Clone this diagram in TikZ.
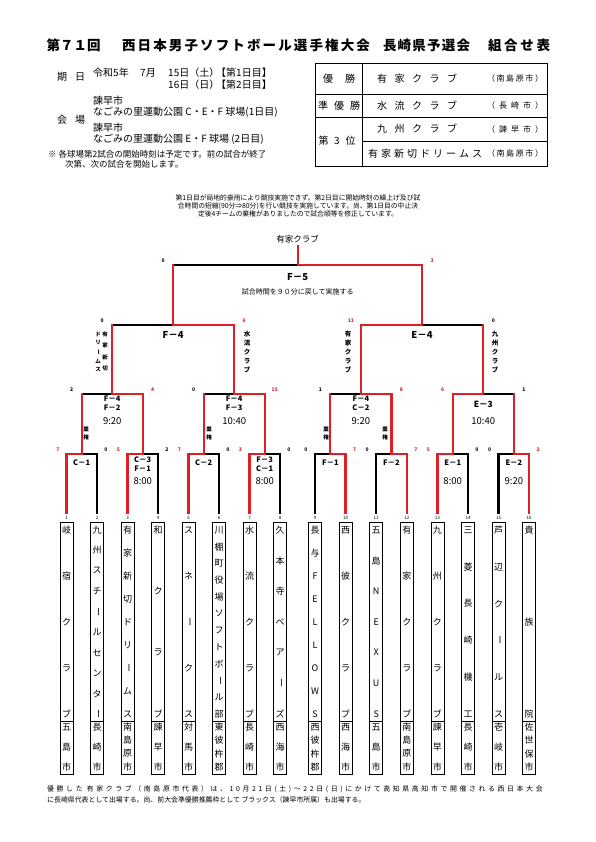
\documentclass[tikz,border=0pt]{standalone}
\usepackage{fontspec}
\usepackage{graphicx}
\setmainfont{Noto Sans CJK JP}
\usetikzlibrary{calc}
\definecolor{bred}{RGB}{222,32,38}
\def\sprA#1{#1\futurelet\sprnext\sprB}
\def\sprB{\ifx\sprnext\relax\expandafter\sprEnd\else\hfill\expandafter\sprA\fi}
\def\sprEnd\relax{}
\newcommand\spr[2]{\makebox[#1]{\sprA#2\relax}}
\newcommand\vb{\rotatebox[origin=c]{-90}{ー}}
\newcommand\fs[1]{\fontsize{#1}{#1}\selectfont}
\begin{document}
\begin{tikzpicture}[x=1pt,y=-1pt,
  wl/.style={line width=2.3pt,draw=black,line cap=rect,line join=miter},
  rl/.style={wl,draw=bred},
  tbox/.style={draw,line width=0.7pt,minimum width=13pt,minimum height=252pt,inner sep=0pt},
  tc/.style={font=\fs{9},inner sep=0pt},
  tn/.style={font=\fs{4.5},inner sep=0pt},
  sk/.style={font=\fs{5}\bfseries,inner sep=0pt},
  skr/.style={sk,text=bred},
  mlab/.style={font=\fs{7.5}\bfseries,inner sep=0pt},
  mbig/.style={font=\fs{9.5}\bfseries,inner sep=0pt},
  mtime/.style={font=\fs{9.5},inner sep=0pt},
  vlab/.style={font=\fs{6.5}\bfseries,inner sep=0pt},
  vsm/.style={font=\fs{5.5}\bfseries,inner sep=0pt},
  hd/.style={font=\fs{10},inner sep=0pt,anchor=west},
  tb/.style={font=\fs{10},inner sep=0pt},
  tbs/.style={font=\fs{8},inner sep=0pt},
  ttl/.style={font=\fs{13.5}\bfseries,inner sep=0pt},
  note/.style={font=\fs{6.8},inner sep=0pt},
  btm/.style={font=\fs{6.9},inner sep=0pt,anchor=west}
]
\useasboundingbox[fill=white] (0,0) rectangle (595,842);

% ---------- title ----------
\node[ttl] (ti1) at (73.5,45) {\spr{53pt}{第７１回}};
\node[ttl] (ti2) at (246,45) {\spr{248pt}{西日本男子ソフトボール選手権大会}};
\node[ttl] (ti3) at (426.5,45) {\spr{87pt}{長崎県予選会}};
\node[ttl] (ti4) at (519,45) {\spr{62pt}{組合せ表}};

% ---------- header left ----------
\node[hd] (kd) at (57,77) {\spr{28pt}{期日}};
\node[hd] (h1) at (93,73) {令和5年};
\node[hd] (h2) at (140,73) {7月};
\node[hd] (h3) at (168,73) {15日（土）};
\node[hd] (h4) at (216,73) {【第1日目】};
\node[hd] (h5) at (168,84.5) {16日（日）};
\node[hd] (h6) at (216,84.5) {【第2日目】};
\node[hd] (h7) at (93,101) {諫早市};
\node[hd] (h8) at (93,112) {なごみの里運動公園 C・E・F 球場(1日目)};
\node[hd] (kj) at (57,120) {\spr{28pt}{会場}};
\node[hd] (h9) at (93,128) {諫早市};
\node[hd] (h10) at (93,139) {なごみの里運動公園 E・F 球場 (2日目)};
\node[hd,font=\fs{8.5}] (h11) at (48,154) {※ 各球場第2試合の開始時刻は予定です。前の試合が終了};
\node[hd,font=\fs{8.5}] (h12) at (65,164.5) {次第、次の試合を開始します。};

% ---------- header table ----------
\draw[line width=0.9pt] (315,63) rectangle (547,166);
\draw[line width=0.9pt] (315,94) -- (547,94);
\draw[line width=0.9pt] (315,117) -- (547,117);
\draw[line width=0.6pt] (362,141) -- (547,141);
\draw[line width=0.9pt] (362,63) -- (362,166);
\node[tb] (r1a) at (339,78.5) {\spr{32pt}{優勝}};
\node[tb] (r1b) at (417,78.5) {\spr{80pt}{有家クラブ}};
\node[tbs] (r1c) at (515,78.5) {\spr{56pt}{（南島原市）}};
\node[tb] (r2a) at (339,105.5) {\spr{42pt}{準優勝}};
\node[tb] (r2b) at (417,105.5) {\spr{80pt}{水流クラブ}};
\node[tbs] (r2c) at (515,105.5) {\spr{56pt}{（長崎市）}};
\node[tb] (r3a) at (337,141) {\spr{37pt}{第3位}};
\node[tb] (r3b) at (417,129) {\spr{80pt}{九州クラブ}};
\node[tbs] (r3c) at (515,129) {\spr{56pt}{（諫早市）}};
\node[tb] (r4b) at (425,153.5) {\spr{114pt}{有家新切ドリームス}};
\node[tbs] (r4c) at (515,153.5) {\spr{56pt}{（南島原市）}};

% ---------- note ----------
\node[note] (n1) at (298,198) {第1日目が局地的豪雨により競技実施できず。第2日目に開始時刻の繰上げ及び試};
\node[note] (n2) at (298,206) {合時間の短縮(90分⇒80分)を行い競技を実施しています。尚、第1日目の中止決};
\node[note] (n3) at (298,213.5) {定後4チームの棄権がありましたので試合順等を修正しています。};

% ---------- team boxes ----------
\foreach \i/\xx/\nm/\nn/\ct/\mm in {
 1/66.5/{岐,宿,ク,ラ,ブ}/5/{五,島,市}/3,
 2/97/{九,州,ス,チ,\vb,ル,セ,ン,タ,\vb}/10/{長,崎,市}/3,
 3/127.5/{有,家,新,切,ド,リ,\vb,ム,ス}/9/{南,島,原,市}/4,
 4/158/{和,ク,ラ,ブ}/4/{諫,早,市}/3,
 5/188.5/{ス,ネ,\vb,ク,ス}/5/{対,馬,市}/3,
 6/219/{川,棚,町,役,場,ソ,フ,ト,ボ,\vb,ル,部}/12/{東,彼,杵,郡}/4,
 7/249.5/{水,流,ク,ラ,ブ}/5/{長,崎,市}/3,
 8/280/{久,本,寺,ベ,ア,\vb,ズ}/7/{西,海,市}/3,
 9/315/{長,与,F,E,L,L,O,W,S}/9/{西,彼,杵,郡}/4,
 10/345.6/{西,彼,ク,ラ,ブ}/5/{西,海,市}/3,
 11/376.2/{五,島,N,E,X,U,S}/7/{五,島,市}/3,
 12/406.8/{有,家,ク,ラ,ブ}/5/{南,島,原,市}/4,
 13/437.4/{九,州,ク,ラ,ブ}/5/{諫,早,市}/3,
 14/468/{三,菱,長,崎,機,工}/6/{長,崎,市}/3,
 15/498.6/{芦,辺,ク,\vb,ル,ス}/6/{壱,岐,市}/3,
 16/529.2/{貴,族,院}/3/{佐,世,保,市}/4}{
  \node[tbox] (t\i) at (\xx,648) {};
  \draw[line width=0.7pt] (t\i.west |- 0,721) -- (t\i.east |- 0,721);
  \node[tn] (n\i) at (\xx,517.5) {\i};
  \coordinate (l\i) at (\xx,513);
  \foreach \c [count=\k] in \nm {
    \pgfmathsetmacro\yy{530+(\k-1)*184/(\nn-1)}
    \node[tc] (t\i c\k) at (\xx,\yy) {\c};
  }
  \foreach \c [count=\k] in \ct {
    \pgfmathsetmacro\yy{727+(\k-1)*40/(\mm-1)}
    \node[tc] (t\i d\k) at (\xx,\yy) {\c};
  }
}

% ---------- match coordinates ----------
\coordinate (a1) at (81.75,454);
\coordinate (a2) at (142.75,454);
\coordinate (a3) at (203.75,454);
\coordinate (a4) at (264.75,454);
\coordinate (a5) at (330.3,454);
\coordinate (a6) at (391.5,454);
\coordinate (a7) at (452.7,454);
\coordinate (a8) at (513.9,454);
\coordinate (b1) at (112.25,394);
\coordinate (b2) at (234.25,394);
\coordinate (b3) at (360.9,394);
\coordinate (b4) at (483.3,394);
\coordinate (c1) at (173.25,325);
\coordinate (c2) at (422.1,325);
\coordinate (d) at (297.675,265);

% ---------- black (lost) lines ----------
\draw[wl] (l2) -- (l2 |- a1) -- (a1);
\draw[wl] (l4) -- (l4 |- a2) -- (a2);
\draw[wl] (l6) -- (l6 |- a3) -- (a3);
\draw[wl] (l8) -- (l8 |- a4) -- (a4);
\draw[wl] (l9) -- (l9 |- a5) -- (a5);
\draw[wl] (l11) -- (l11 |- a6) -- (a6);
\draw[wl] (l14) -- (l14 |- a7) -- (a7);
\draw[wl] (l15) -- (l15 |- a8) -- (a8);
\draw[wl] (a1 |- b1) -- (b1);
\draw[wl] (a3 |- b2) -- (b2);
\draw[wl] (a5 |- b3) -- (b3);
\draw[wl] (a8 |- b4) -- (b4);
\draw[wl] (b1 |- c1) -- (c1);
\draw[wl] (b4 |- c2) -- (c2);
\draw[wl] (c1 |- d) -- (d);

% ---------- red (won) lines ----------
\draw[rl] (l1) -- (l1 |- a1) -- (a1);
\draw[rl] (l3) -- (l3 |- a2) -- (a2);
\draw[rl] (l5) -- (l5 |- a3) -- (a3);
\draw[rl] (l7) -- (l7 |- a4) -- (a4);
\draw[rl] (l10) -- (l10 |- a5) -- (a5);
\draw[rl] (l12) -- (l12 |- a6) -- (a6);
\draw[rl] (l13) -- (l13 |- a7) -- (a7);
\draw[rl] (l16) -- (l16 |- a8) -- (a8);
\draw[rl] (a1) -- (a1 |- b1);
\draw[rl] (a2) -- (a2 |- b1) -- (b1);
\draw[rl] (a3) -- (a3 |- b2);
\draw[rl] (a4) -- (a4 |- b2) -- (b2);
\draw[rl] (a5) -- (a5 |- b3);
\draw[rl] (a6) -- (a6 |- b3) -- (b3);
\draw[rl] (a7) -- (a7 |- b4) -- (b4);
\draw[rl] (a8) -- (a8 |- b4);
\draw[rl] (b1) -- (b1 |- c1);
\draw[rl] (b2) -- (b2 |- c1) -- (c1);
\draw[rl] (b3) -- (b3 |- c2) -- (c2);
\draw[rl] (b4) -- (b4 |- c2);
\draw[rl] (c1) -- (c1 |- d);
\draw[rl] (c2) -- (c2 |- d) -- (d);
\node[font=\fs{8.5},inner sep=0pt] (champ) at (297.675,239) {有家クラブ};
\draw[rl] (d) -- ([yshift=-2.5pt]champ.south);

% ---------- scores ----------
\node[skr] (sa1l) at (58,450) {7};   \node[sk] (sa1r) at (106,450) {0};
\node[skr] (sa2l) at (118.5,450) {5}; \node[sk] (sa2r) at (167,450) {2};
\node[skr] (sa3l) at (179.5,450) {7}; \node[sk] (sa3r) at (228,450) {0};
\node[skr] (sa4l) at (240.5,450) {3}; \node[sk] (sa4r) at (289,450) {0};
\node[sk] (sa5l) at (306,450) {0};    \node[skr] (sa5r) at (354.6,450) {7};
\node[sk] (sa6l) at (367.2,450) {0};  \node[skr] (sa6r) at (415.8,450) {7};
\node[skr] (sa7l) at (428.4,450) {5}; \node[sk] (sa7r) at (477,450) {0};
\node[sk] (sa8l) at (489.6,450) {0};  \node[skr] (sa8r) at (538.2,450) {2};
\node[sk] (sb1l) at (71.75,390) {2};  \node[skr] (sb1r) at (152.75,390) {4};
\node[sk] (sb2l) at (193.75,390) {0}; \node[skr] (sb2r) at (274.75,390) {15};
\node[sk] (sb3l) at (320.3,390) {1};  \node[skr] (sb3r) at (401.5,390) {8};
\node[skr] (sb4l) at (442.7,390) {6}; \node[sk] (sb4r) at (523.9,390) {1};
\node[sk] (sc1l) at (102.25,321) {0}; \node[skr] (sc1r) at (244.25,321) {6};
\node[skr] (sc2l) at (350.9,321) {11}; \node[sk] (sc2r) at (493.3,321) {0};
\node[sk] (sdl) at (163.25,261) {0};  \node[skr] (sdr) at (432.1,261) {3};

% ---------- match labels ----------
\node[mbig] (ld1) at ([yshift=-12pt]d) {F－5};
\node[font=\fs{7},inner sep=0pt] (ld2) at ([yshift=-27pt]d) {試合時間を９０分に戻して実施する};
\node[mbig] (lc1) at ([yshift=-10pt]c1) {F－4};
\node[mbig] (lc2) at ([yshift=-10pt]c2) {E－4};
\node[mlab] (lb1a) at ([yshift=-4.5pt]b1) {F－4};
\node[mlab] (lb1b) at ([yshift=-14pt]b1) {F－2};
\node[mtime] (lb1c) at ([yshift=-27pt]b1) {9:20};
\node[mlab] (lb2a) at ([yshift=-4.5pt]b2) {F－4};
\node[mlab] (lb2b) at ([yshift=-14pt]b2) {F－3};
\node[mtime] (lb2c) at ([yshift=-27pt]b2) {10:40};
\node[mlab] (lb3a) at ([yshift=-4.5pt]b3) {F－4};
\node[mlab] (lb3b) at ([yshift=-14pt]b3) {C－2};
\node[mtime] (lb3c) at ([yshift=-27pt]b3) {9:20};
\node[font=\fs{8.5}\bfseries,inner sep=0pt] (lb4a) at ([yshift=-10pt]b4) {E－3};
\node[mtime] (lb4c) at ([yshift=-27pt]b4) {10:40};
\node[mlab] (la1) at ([yshift=-9pt]a1) {C－1};
\node[mlab] (la2a) at ([yshift=-5.5pt]a2) {C－3};
\node[mlab] (la2b) at ([yshift=-15pt]a2) {F－1};
\node[mtime] (la2c) at ([yshift=-27pt]a2) {8:00};
\node[mlab] (la3) at ([yshift=-9pt]a3) {C－2};
\node[mlab] (la4a) at ([yshift=-5.5pt]a4) {F－3};
\node[mlab] (la4b) at ([yshift=-15pt]a4) {C－1};
\node[mtime] (la4c) at ([yshift=-27pt]a4) {8:00};
\node[mlab] (la5) at ([yshift=-9pt]a5) {F－1};
\node[mlab] (la6) at ([yshift=-9pt]a6) {F－2};
\node[mlab] (la7a) at ([yshift=-9pt]a7) {E－1};
\node[mtime] (la7c) at ([yshift=-27pt]a7) {8:00};
\node[mlab] (la8a) at ([yshift=-9pt]a8) {E－2};
\node[mtime] (la8c) at ([yshift=-27pt]a8) {9:20};

% ---------- vertical team labels ----------
\foreach \c [count=\k] in {水,流,ク,ラ,ブ} {
  \pgfmathsetmacro\yy{334+(\k-1)*9}
  \node[vlab] (vw\k) at (247,\yy) {\c};
}
\foreach \c [count=\k] in {有,家,ク,ラ,ブ} {
  \pgfmathsetmacro\yy{334+(\k-1)*9}
  \node[vlab] (vu\k) at (348,\yy) {\c};
}
\foreach \c [count=\k] in {九,州,ク,ラ,ブ} {
  \pgfmathsetmacro\yy{334+(\k-1)*9}
  \node[vlab] (vk\k) at (495,\yy) {\c};
}
\foreach \c [count=\k] in {有,家,新,切} {
  \pgfmathsetmacro\yy{334+(\k-1)*11.5}
  \node[vsm] (vs\k) at (105,\yy) {\c};
}
\foreach \c [count=\k] in {ド,リ,\vb,ム,ス} {
  \pgfmathsetmacro\yy{334+(\k-1)*9}
  \node[vsm] (vd\k) at (98,\yy) {\c};
}
\foreach \xx/\q in {86/1,209/2,326/3,385/4} {
  \node[vsm] (kk\q a) at (\xx,429) {棄};
  \node[vsm] (kk\q b) at (\xx,437) {権};
}

% ---------- bottom text ----------
\node[btm] (bt1) at (47,789) {\addfontfeature{LetterSpace=38}優勝した 有家クラブ（南島原市代表）は、10月21日(土)～22日(日)にかけて高知県高知市で開催される西日本大会};
\node[btm] (bt2) at (47,800) {に長崎県代表として出場する。尚、前大会準優勝推薦枠として ブラックス（諫早市所属）も出場する。};
\end{tikzpicture}
\end{document}
